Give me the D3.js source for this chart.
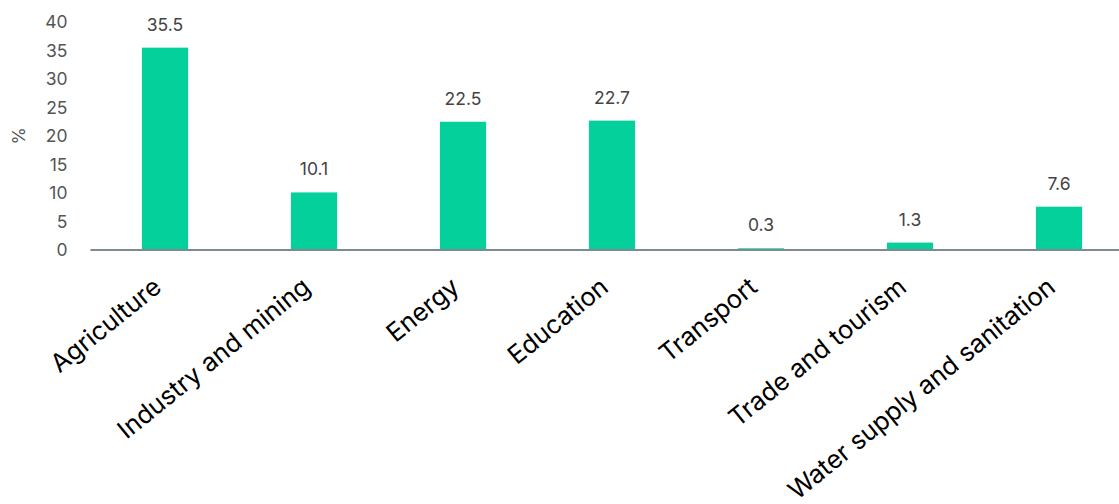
<!DOCTYPE html>
<html>
<head>
<meta charset="utf-8">
<script src="https://cdn.jsdelivr.net/npm/d3@7"></script>
<style>
  html, body { margin: 0; padding: 0; background: #fff; }
  svg { display: block; font-family: Inter, "Noto Sans", sans-serif; }
</style>
</head>
<body>
<svg id="chart" width="1119" height="504"></svg>
<script>
// Share of spending by sector, %
const sectors = ["Agriculture", "Industry and mining", "Energy", "Education", "Transport", "Trade and tourism", "Water supply and sanitation"];
const shares = [35.5, 10.1, 22.5, 22.7, 0.3, 1.3, 7.6];
const yTicks = [0, 5, 10, 15, 20, 25, 30, 35, 40];

const data = sectors.map((s, i) => ({ sector: s, value: shares[i] }));

const svg = d3.select("#chart");
const margin = { left: 90.5, top: 22, bottom: 250 };

const x = d3.scaleBand()
  .domain(sectors)
  .range([margin.left, margin.left + 149 * sectors.length])
  .paddingInner(0.69)
  .paddingOuter(0.345);

const y = d3.scaleLinear()
  .domain([0, 40])
  .range([margin.bottom, margin.top]);

// y tick labels (no tick lines or domain)
const yAxis = svg.append("g")
  .attr("transform", `translate(${margin.left},0)`)
  .call(d3.axisLeft(y).tickValues(yTicks).tickSize(0).tickPadding(23));
yAxis.select(".domain").remove();
yAxis.selectAll("text")
  .attr("fill", "#555")
  .style("font-size", "17.5px")
  .style("font-family", "Inter, 'Noto Sans', sans-serif");

// y axis title
svg.append("text")
  .attr("transform", `translate(25,${(y(20))}) rotate(-90)`)
  .attr("text-anchor", "middle")
  .attr("fill", "#555")
  .style("font-size", "17.5px")
  .text("%");

// bars
svg.append("g").selectAll("rect")
  .data(data)
  .join("rect")
  .attr("x", d => x(d.sector))
  .attr("width", x.bandwidth())
  .attr("y", d => y(d.value))
  .attr("height", d => y(0) - y(d.value))
  .attr("fill", "#03d09a");

// value labels
svg.append("g").selectAll("text")
  .data(data)
  .join("text")
  .attr("x", d => x(d.sector) + x.bandwidth() / 2)
  .attr("y", d => y(d.value) - 17)
  .attr("text-anchor", "middle")
  .attr("fill", "#444")
  .style("font-size", "17.5px")
  .text(d => d.value.toFixed(1));

// x axis baseline and rotated category labels
const xAxis = svg.append("g")
  .attr("transform", `translate(0,${y(0)})`)
  .call(d3.axisBottom(x).tickSize(0).tickPadding(0));
xAxis.select(".domain")
  .attr("d", `M${margin.left},0H1119`)
  .attr("stroke", "#7d8a90")
  .attr("stroke-width", 2);
xAxis.selectAll(".tick text")
  .attr("text-anchor", "end")
  .attr("fill", "#000")
  .style("font-size", "25.5px")
  .style("font-family", "Inter, 'Noto Sans', sans-serif")
  .attr("dy", null)
  .attr("y", 0)
  .attr("transform", "translate(-2,40) rotate(-39)");
</script>
</body>
</html>
